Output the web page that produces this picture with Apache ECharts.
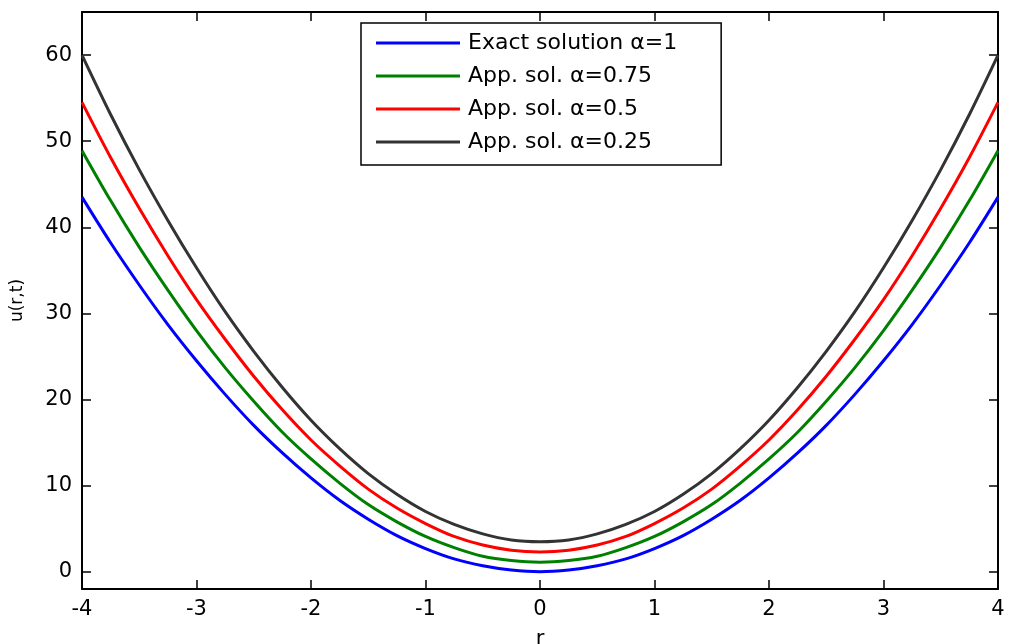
<!DOCTYPE html>
<html><head><meta charset="utf-8">
<script src="https://cdn.jsdelivr.net/npm/echarts@6/dist/echarts.min.js"></script>
<style>html,body{margin:0;padding:0;background:#fff}#c{width:1018px;height:644px}</style>
</head><body><div id="c"></div>
<script>
var rValues = [-4,-3.75,-3.5,-3.25,-3,-2.75,-2.5,-2.25,-2,-1.75,-1.5,-1.25,-1,-0.75,-0.5,-0.25,0,0.25,0.5,0.75,1,1.25,1.5,1.75,2,2.25,2.5,2.75,3,3.25,3.5,3.75,4];
var halfExact = [43.5,38.2,33.3,28.7,24.5,20.6,17.0,13.8,10.9,8.3,6.1,4.2,2.7,1.5,0.7,0.2,0.0];
var halfA075 = [48.9,43.1,37.7,32.7,28.0,23.7,19.8,16.2,13.1,10.3,7.8,5.8,4.1,2.8,1.8,1.3,1.1];
var halfA05 = [54.5,48.1,42.2,36.7,31.6,27.0,22.7,18.8,15.3,12.3,9.6,7.4,5.6,4.1,3.1,2.5,2.3];
var halfA025 = [60.0,53.1,46.7,40.8,35.3,30.2,25.6,21.4,17.6,14.3,11.4,9.0,7.0,5.5,4.4,3.7,3.5];
var seriesNames = ['Exact solution \u03b1=1','App. sol. \u03b1=0.75','App. sol. \u03b1=0.5','App. sol. \u03b1=0.25'];
var seriesColors = ['#0000ff','#008000','#ff0000','#333333'];
var xTicks = [-4,-3,-2,-1,0,1,2,3,4];
var yTicks = [0,10,20,30,40,50,60];

function full(half){ return half.concat(half.slice(0,-1).reverse()); }
var allHalves = [halfExact, halfA075, halfA05, halfA025];
var FONT = 'DejaVu Sans';

var chart = echarts.init(document.getElementById('c'));
var series = allHalves.map(function(h,i){
  var v = full(h);
  return {
    name: seriesNames[i], type:'line', showSymbol:false, symbol:'none', smooth:0.3,
    data: rValues.map(function(r,k){return [r, v[k]];}),
    lineStyle:{color:seriesColors[i], width:3}, itemStyle:{color:seriesColors[i]},
    xAxisIndex:0, yAxisIndex:0, z: 2
  };
});
function axisCommon(){
  return {axisLine:{show:true,onZero:false,lineStyle:{color:'#000',width:2}},
          splitLine:{show:false}};
}
chart.setOption({
  animation:false,
  grid:{left:82,right:20,top:12,bottom:55,containLabel:false,outerBoundsMode:'none'},
  legend:{
    orient:'vertical', left:361, top:23,
    padding:[9,44,12,15], itemGap:11,
    backgroundColor:'#fff', borderColor:'#000', borderWidth:1.5,
    itemWidth:84, itemHeight:3, icon:'rect',
    textStyle:{fontFamily:FONT, fontSize:22, color:'#000', padding:[0,0,0,3]},
    data: seriesNames
  },
  xAxis:[
    Object.assign(axisCommon(),{type:'value',min:-4,max:4,position:'bottom',
      name:'r', nameLocation:'middle', nameGap:40,
      nameTextStyle:{fontFamily:FONT,fontSize:21,color:'#000'},
      axisTick:{show:true,inside:true,length:9,customValues:xTicks,lineStyle:{color:'#000',width:1.5}},
      axisLabel:{show:true,customValues:xTicks,fontFamily:FONT,fontSize:21,color:'#000',margin:10}}),
    Object.assign(axisCommon(),{type:'value',min:-4,max:4,position:'top',
      axisTick:{show:true,inside:true,length:9,customValues:xTicks,lineStyle:{color:'#000',width:1.5}},
      axisLabel:{show:false}})
  ],
  yAxis:[
    Object.assign(axisCommon(),{type:'value',min:-2,max:65,position:'left',
      name:'u(r,t)', nameLocation:'middle', nameGap:56, nameRotate:90,
      nameTextStyle:{fontFamily:FONT,fontSize:17,color:'#000'},
      axisTick:{show:true,inside:true,length:9,customValues:yTicks,lineStyle:{color:'#000',width:1.5}},
      axisLabel:{show:true,customValues:yTicks,fontFamily:FONT,fontSize:21,color:'#000',margin:10}}),
    Object.assign(axisCommon(),{type:'value',min:-2,max:65,position:'right',
      axisTick:{show:true,inside:true,length:9,customValues:yTicks,lineStyle:{color:'#000',width:1.5}},
      axisLabel:{show:false}})
  ],
  series: series
});
</script></body></html>
